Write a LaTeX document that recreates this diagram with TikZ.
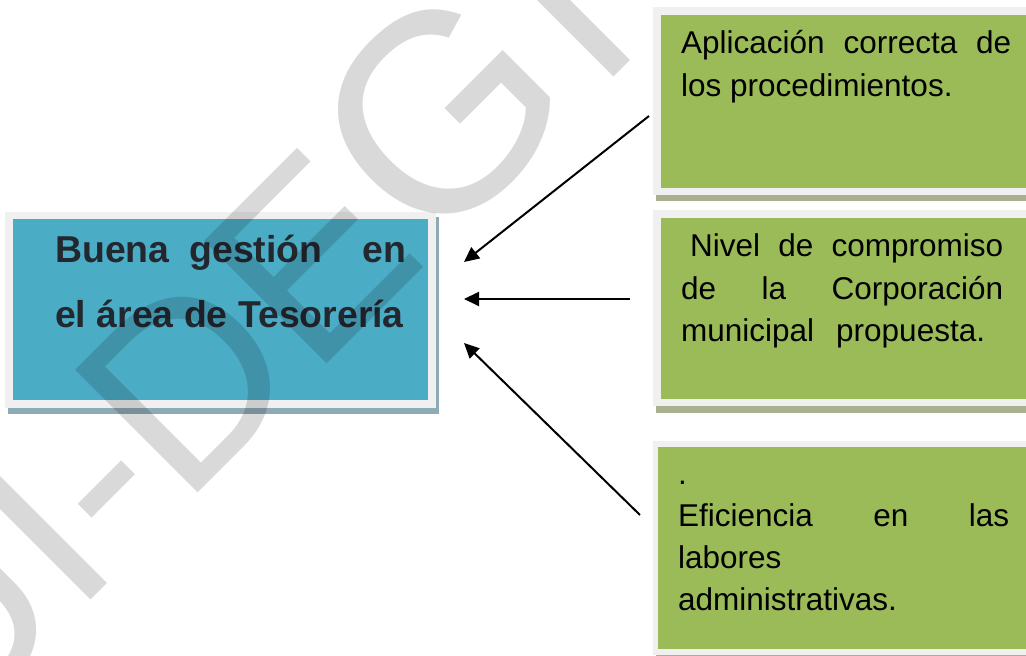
\documentclass[tikz,border=0pt]{standalone}
\usepackage{fontspec}
\setmainfont{Liberation Sans}
\usetikzlibrary{arrows.meta}
\definecolor{tealbox}{HTML}{4BACC6}
\definecolor{greenbox}{HTML}{9BBB59}
\definecolor{framegray}{HTML}{F0F0F0}
\definecolor{blueshadow}{HTML}{8EAAB4}
\definecolor{greenshadow}{HTML}{A8B090}
\definecolor{darktext}{HTML}{23272E}
\tikzset{
  boxnode/.style={draw=none, inner sep=0, outer sep=0, anchor=south west},
  bluetext/.style={inner sep=0, anchor=base west, text=darktext, font=\fontsize{37.4}{65}\selectfont\bfseries},
  greentext/.style={inner sep=0, anchor=base west, text=black},
  arr/.style={line width=2pt, -{Triangle[length=15pt,width=14pt]}},
  watermark/.style={inner sep=0, anchor=base west, rotate=45, text=black, text opacity=0.15, font=\fontsize{252}{252}\selectfont}
}
\begin{document}
\begin{tikzpicture}[x=1pt,y=1pt]
\useasboundingbox (0,0) rectangle (1026,656);
\clip (0,0) rectangle (1026,656);
\fill[white] (0,0) rectangle (1026,656);

% central blue box
\fill[blueshadow] (8,242) rectangle (439,439);
\fill[framegray] (5,248) rectangle (436,444);
\node[boxnode, fill=tealbox, minimum width=415pt, minimum height=181pt] (main) at (13,256) {};
\node[bluetext] (maintext) at (55,393) {\parbox[t]{351pt}{\makebox[351pt]{Buena\hfill gestión\hfill\hfill en}\\el área de Tesorería}};

% green box 1
\fill[greenshadow] (656,455) rectangle (1030,645);
\fill[framegray] (653,461) rectangle (1030,649);
\node[boxnode, fill=greenbox, minimum width=369pt, minimum height=173pt] (g1) at (661,468) {};
\node[greentext, font=\fontsize{31.5}{43}\selectfont] (g1text) at (681,602) {\parbox[t]{330pt}{\makebox[330pt][s]{Aplicación correcta de}\\los procedimientos.}};

% green box 2
\fill[greenshadow] (656,243) rectangle (1030,440);
\fill[framegray] (653,250) rectangle (1030,446);
\node[boxnode, fill=greenbox, minimum width=369pt, minimum height=181pt] (g2) at (661,257) {};
\node[greentext, font=\fontsize{31.5}{42.5}\selectfont] (g2text) at (681,399) {\parbox[t]{322pt}{\makebox[322pt]{\hspace{9pt}Nivel\hfill de\hfill compromiso}\\\makebox[322pt]{de\hfill la\hfill Corporación}\\municipal\hspace{22pt}propuesta.}};

% green box 3
\fill[greenshadow] (656,-5) rectangle (1030,210);
\fill[framegray] (653,1) rectangle (1030,215);
\node[boxnode, fill=greenbox, minimum width=372pt, minimum height=202pt] (g3) at (658,7) {};
\node[greentext, font=\fontsize{31.5}{41.7}\selectfont] (g3text) at (678,171) {\parbox[t]{331pt}{.\\\makebox[331pt]{Eficiencia\hfill en\hfill las}\\labores\\administrativas.}};

% arrows
\coordinate (s1) at (649,540);
\coordinate (e1) at (464,394);
\coordinate (s2) at (630,357);
\coordinate (e2) at (464,357);
\coordinate (s3) at (640,141);
\coordinate (e3) at (464,313);
\draw[arr] (s1) -- (e1);
\draw[arr] (s2) -- (e2);
\draw[arr] (s3) -- (e3);

% watermark
\node[watermark] (wm) at (-54,-89) {UI-DE\scalebox{1.12}{G}\kern15pt I};
\end{tikzpicture}
\end{document}
